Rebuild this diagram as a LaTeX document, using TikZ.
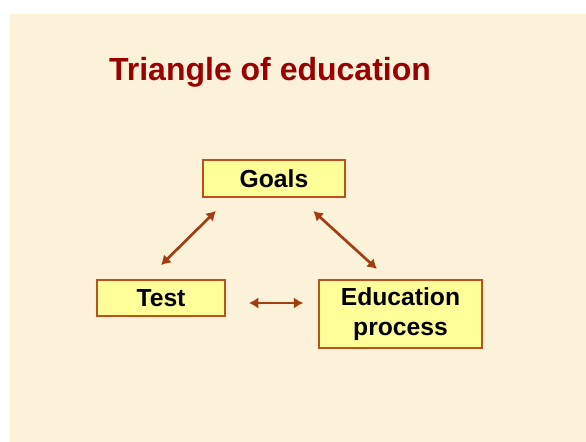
\documentclass[tikz,border=0pt]{standalone}
\usepackage{fontspec}
\setmainfont{Liberation Sans}
\usetikzlibrary{arrows.meta}
\definecolor{slide}{HTML}{FCF1D9}
\definecolor{boxfill}{HTML}{FFFF99}
\definecolor{boxline}{HTML}{B9521D}
\definecolor{arrowc}{HTML}{A33D14}
\definecolor{titlered}{HTML}{990000}
\tikzset{
    %Define standard arrow tip
    >={Latex[length=7pt,width=8.5pt]},
    %Define style for boxes
    topic/.style={
   	rectangle,
   	draw=boxline, line width=1.5pt,
   	fill=boxfill,
   	inner sep=0pt,
   	font=\bfseries\fontsize{18.5}{22.5}\selectfont,
   	align=center
   },
    % Define arrow style
    link/.style={
           <->,
           draw=arrowc,
           line width=2pt},
    heading/.style={
   	font=\bfseries\fontsize{24}{28}\selectfont,
   	text=titlered
   },
}
\begin{document}
\begin{tikzpicture}[x=0.75pt,y=-0.75pt]
\useasboundingbox (0,0) rectangle (586,442);
%background
\fill[white] (0,0) rectangle (586,442);
\fill[slide] (10,14) rectangle (586,442);
%nodes
\node[heading, anchor=base](title) at (270,81){Triangle of education};
\node[topic, minimum width=106.5pt, minimum height=27.75pt](goals) at (274,178.5){Goals};
\node[topic, minimum width=96pt, minimum height=27pt](test) at (161,298){Test};
\node[topic, minimum width=122pt, minimum height=51pt](edu) at (400.5,314){Education\\process};
%arrows
\draw[link, shorten <=14.8pt, shorten >=13.8pt] ([xshift=-10.5pt]test.north) -- ([xshift=-33.75pt]goals.south);
\draw[link, shorten <=14.5pt, shorten >=11.2pt] ([xshift=18.75pt]goals.south) -- ([xshift=-9.4pt]edu.north);
\draw[link, shorten <=17.25pt, shorten >=11.25pt] ([yshift=-3.75pt]test.east) -- ([yshift=8.25pt]edu.west);
\end{tikzpicture}
\end{document}
